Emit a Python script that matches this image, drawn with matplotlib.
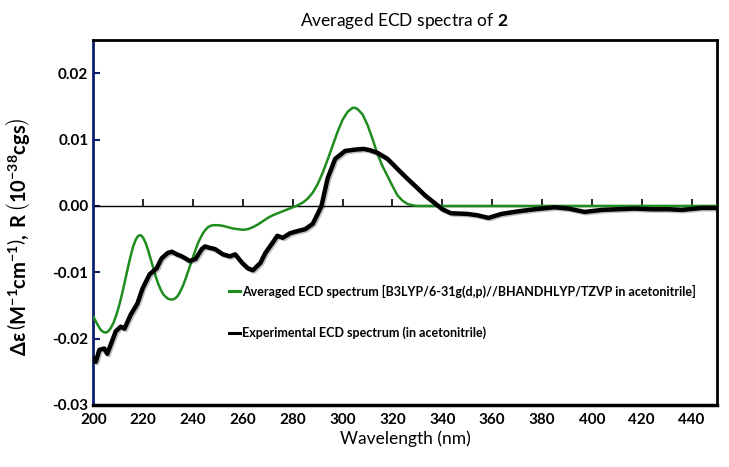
import numpy as np
import matplotlib
matplotlib.use("Agg")
import matplotlib.pyplot as plt
import matplotlib.patheffects as pe

plt.rcParams['font.family'] = ['Lato', 'DejaVu Sans']
plt.rcParams['mathtext.fontset'] = 'custom'
plt.rcParams['mathtext.rm'] = 'Lato'
plt.rcParams['mathtext.bf'] = 'Lato:bold'

# calculated (averaged) spectrum
calc_nm = [200, 201, 202, 203, 204, 205, 206, 207, 208, 209, 210, 211, 212, 213, 214,
           215, 216, 217, 218, 219, 220, 221, 222, 223, 224, 225, 226, 227, 228, 229,
           230, 231, 232, 233, 234, 235, 236, 237, 238, 239, 240, 241, 242, 243, 244,
           245, 246, 247, 248, 250, 252, 254, 256, 258, 260, 262, 264, 266, 268, 270,
           272, 274, 276, 278, 280, 282, 284, 286, 288, 290, 292, 294, 296, 298, 300,
           302, 304, 305, 306, 308, 310, 312, 314, 316, 318, 320, 322, 324, 326, 328,
           330, 440, 450]
calc_val = [-0.0167, -0.0174, -0.0181, -0.0187, -0.0190, -0.0191, -0.0189, -0.0184,
            -0.0177, -0.0167, -0.0155, -0.0141, -0.0125, -0.0108, -0.0091, -0.0075,
            -0.0061, -0.0051, -0.0045, -0.0044, -0.0048, -0.0056, -0.0067, -0.0080,
            -0.0093, -0.0106, -0.0117, -0.0126, -0.0133, -0.0137, -0.0140, -0.0141,
            -0.0141, -0.0139, -0.0135, -0.0128, -0.0120, -0.0110, -0.0099, -0.0088,
            -0.0077, -0.0066, -0.0056, -0.0048, -0.0041, -0.0036, -0.0032, -0.0030,
            -0.0029, -0.0029, -0.0030, -0.0032, -0.0034, -0.0035, -0.0036, -0.0035,
            -0.0032, -0.0028, -0.0023, -0.0018, -0.0014, -0.0011, -0.0008, -0.0005,
            -0.0002, 0.0001, 0.0005, 0.0011, 0.0020, 0.0033, 0.0050, 0.0070, 0.0091,
            0.0112, 0.0130, 0.0142, 0.0148, 0.0148, 0.0146, 0.0138, 0.0122, 0.0101,
            0.0078, 0.0060, 0.0045, 0.0030, 0.0016, 0.0008, 0.0003, 0.0001, 0.0, 0.0, 0.0]

# experimental spectrum
exp_nm = [200, 201, 202.4, 204.4, 205.6, 207, 209, 211, 212.5, 215, 217.7, 219.8,
          222.6, 225.4, 227.4, 229.8, 231.5, 233.5, 235.5, 238.7, 241, 243.5, 244.8,
          246.5, 248.8, 252, 254.8, 256.9, 259.7, 262, 264, 267, 269, 271.8, 273.8,
          276, 279, 281.8, 285, 288, 290, 291.5, 294, 297, 301, 305, 308.5, 311, 314,
          318, 323, 326, 330, 333, 336.7, 340, 343.5, 350, 354, 358.5, 363.7, 370.6,
          377, 385, 390.7, 397, 404, 410, 417, 424, 431, 436, 444, 450]
exp_val = [-0.0230, -0.0235, -0.0217, -0.0215, -0.0223, -0.0209, -0.0189, -0.0182,
           -0.0185, -0.0164, -0.0147, -0.0124, -0.0103, -0.0094, -0.0079, -0.0071,
           -0.0069, -0.0073, -0.0076, -0.0083, -0.0080, -0.0065, -0.0061, -0.0063,
           -0.0065, -0.0073, -0.0076, -0.0073, -0.0086, -0.0094, -0.0097, -0.0086,
           -0.0071, -0.0056, -0.0045, -0.0048, -0.0041, -0.0038, -0.0035, -0.0027,
           -0.0012, 0.0, 0.0042, 0.0071, 0.0083, 0.0085, 0.0086, 0.0084, 0.0080,
           0.0071, 0.0052, 0.0041, 0.0027, 0.0016, 0.0005, -0.0005, -0.0011, -0.0012,
           -0.0014, -0.0018, -0.0012, -0.0008, -0.0005, -0.0002, -0.0004, -0.0009,
           -0.0006, -0.0005, -0.0004, -0.0005, -0.0005, -0.0006, -0.0003, -0.0003]

calc_label = 'Averaged ECD spectrum [B3LYP/6-31g(d,p)//BHANDHLYP/TZVP in acetonitrile]'
exp_label = 'Experimental ECD spectrum (in acetonitrile)'
xticks = list(range(200, 441, 20))
yticks = [-0.03, -0.02, -0.01, 0.00, 0.01, 0.02]
ylim = (-0.03, 0.025)

fig = plt.figure(figsize=(7.29, 4.67), dpi=100)
ax = fig.add_axes([0.128, 0.133, 0.855, 0.781])

# zero line with the x tick marks sitting on it
ax.axhline(0, color='black', lw=1.0, zorder=2)
ax.plot(xticks, [0] * len(xticks), ls='none', marker=2, ms=5, mew=1.2,
        color='black', zorder=2)

ax.plot(calc_nm, calc_val, color='#1f8c1f', lw=1.8, label=calc_label, zorder=3)
ax.plot(exp_nm, exp_val, color='black', lw=3.2, label=exp_label, zorder=4,
        path_effects=[pe.SimpleLineShadow(offset=(1, -1), alpha=0.25), pe.Normal()])

ax.set_xlim(200, 450)
ax.set_ylim(*ylim)
ax.set_xticks(xticks)
ax.set_yticks(yticks)
ax.set_yticklabels([f'{v:.2f}' for v in yticks])
ax.tick_params(axis='x', length=0, pad=6, labelsize=11)
ax.tick_params(axis='y', direction='in', color='#0d1f6e', length=5, width=1.5, labelsize=11)
for lab in ax.get_xticklabels() + ax.get_yticklabels():
    lab.set_fontweight('bold')

ax.spines['left'].set_color('#0d1f6e')
ax.spines['left'].set_linewidth(2)
for s in ['top', 'right']:
    ax.spines[s].set_linewidth(2)
ax.spines['bottom'].set_linewidth(2.5)

ax.set_xlabel('Wavelength (nm)', fontsize=12.5, labelpad=2)
ax.set_ylabel(r'$\mathbf{\Delta\epsilon\,\left(M^{-1}cm^{-1}\right),\,R\,\left(10^{-38}cgs\right)}$',
              fontsize=14.5)
ax.yaxis.set_label_coords(-0.098, 0.46)
fig.text(0.555, 0.955, r'Averaged ECD spectra of $\mathbf{2}$', ha='center', va='center', fontsize=12.5)

leg = ax.legend(loc='upper left', bbox_to_anchor=(0.2, 0.36), frameon=False,
                handlelength=0.9, handletextpad=0.1, labelspacing=2.3,
                prop={'weight': 'bold', 'size': 9})
for h in leg.legend_handles:
    h.set_linewidth(2.2)
    h.set_path_effects([])

fig.savefig('out.png', dpi=100)
